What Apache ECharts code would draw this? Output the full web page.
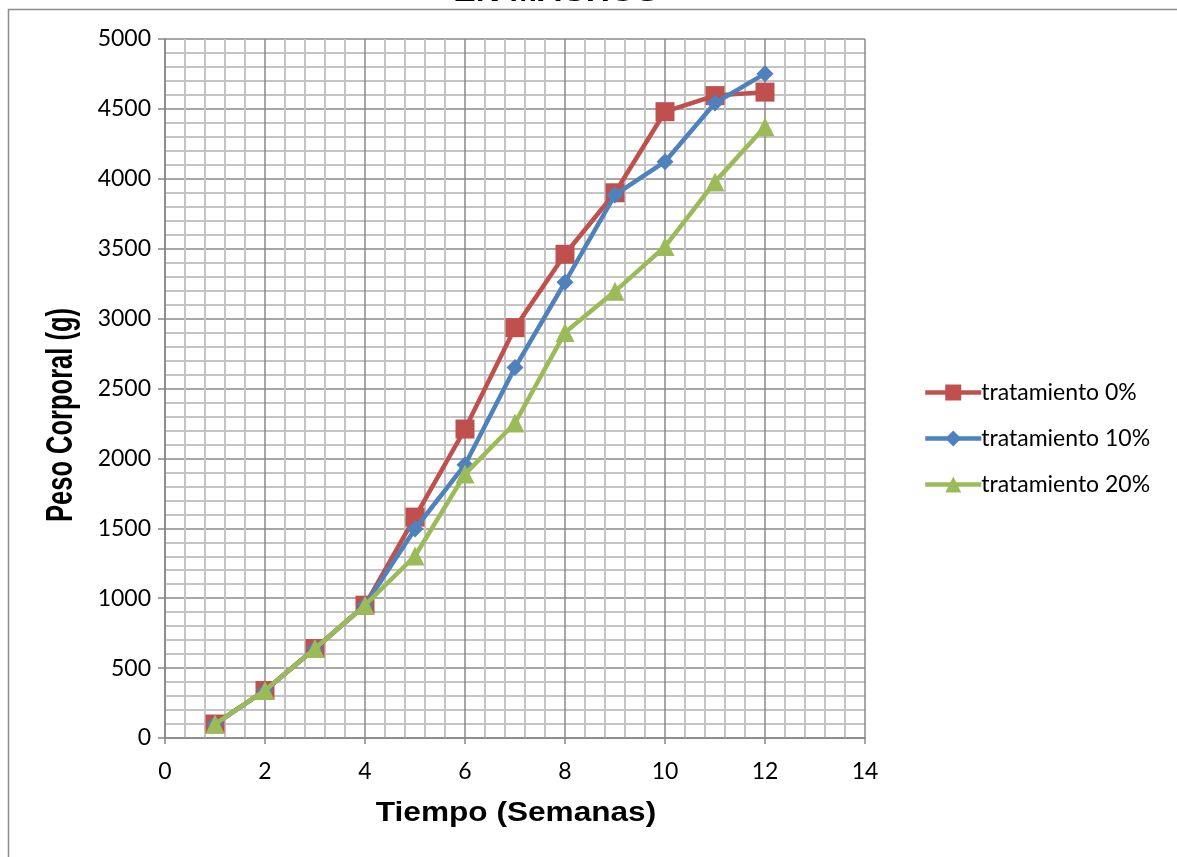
<!DOCTYPE html>
<html><head><meta charset="utf-8">
<script src="https://cdn.jsdelivr.net/npm/echarts@6/dist/echarts.min.js"></script>
<style>html,body{margin:0;padding:0;background:#fff}#c{width:1177px;height:857px}</style>
</head><body><div id="c"></div>
<script>
const weeks = [1,2,3,4,5,6,7,8,9,10,11,12];
const trat0  = [100,340,640,950,1580,2210,2935,3460,3900,4480,4595,4620];
const trat10 = [100,340,640,950,1495,1955,2650,3260,3885,4122,4542,4752];
const trat20 = [100,340,640,950,1302,1888,2253,2900,3195,3515,3978,4372];
const seriesNames = ['tratamiento 0%','tratamiento 10%','tratamiento 20%'];
const titleText = 'EN MACHOS';
const xName = 'Tiempo (Semanas)';
const yName = 'Peso Corporal (g)';
const colors = ['#C0504D','#4F81BD','#9BBB59'];
const symbols = ['rect','diamond','triangle'];
const symbolSizes = [19,17,19];
const allData = [trat0, trat10, trat20];

const font = 'Lato, "Open Sans", "Noto Sans", sans-serif';
const chart = echarts.init(document.getElementById('c'));
chart.setOption({
  animation:false,
  backgroundColor:'#fff',
  graphic:[
    {type:'rect', shape:{x:8.5,y:9.5,width:1200,height:900}, style:{fill:'none', stroke:'#8c8c8c', lineWidth:1.5}, z:-1},
    {type:'text', x:556, y:-7, scaleX:1.2, style:{text:titleText, font:'bold 28px "Liberation Sans", Arial, sans-serif', fill:'#000', textAlign:'center', textVerticalAlign:'middle'}},
    {type:'text', x:516, y:814, scaleX:1.17, style:{text:xName, font:'bold 27px "Liberation Sans", Arial, sans-serif', fill:'#000', textAlign:'center', textVerticalAlign:'middle'}},
    {type:'text', x:62, y:415, rotation:Math.PI/2, scaleX:0.85, scaleY:1.2, style:{text:yName, font:'bold 30px "Liberation Sans", Arial, sans-serif', fill:'#000', textAlign:'center', textVerticalAlign:'middle'}}
  ],
  grid:{left:165, top:39, width:700, height:699},
  legend:{orient:'vertical', left:918, top:376, itemGap:23, itemWidth:56, itemHeight:20,
    textStyle:{fontFamily:font, fontSize:23, color:'#000', padding:[0,0,0,-5]},
    lineStyle:{width:4.5},
    data:seriesNames},
  xAxis:{type:'value', min:0, max:14, interval:2,
    axisLine:{show:true, onZero:false, lineStyle:{color:'#868686', width:1.5}},
    axisTick:{show:true, length:6, lineStyle:{color:'#868686', width:1.5}},
    axisLabel:{fontFamily:font, fontSize:23, color:'#000', margin:22, formatter:v=>String(v)},
    splitLine:{show:true, lineStyle:{color:'#8a8a8a', width:1.5}},
    minorTick:{show:false, splitNumber:5},
    minorSplitLine:{show:true, lineStyle:{color:'#c4c4c4', width:2}}},
  yAxis:{type:'value', min:0, max:5000, interval:500,
    axisLine:{show:true, lineStyle:{color:'#868686', width:1.5}},
    axisTick:{show:true, length:7, lineStyle:{color:'#868686', width:1.5}},
    axisLabel:{fontFamily:font, fontSize:23, color:'#000', margin:14, formatter:v=>String(v)},
    splitLine:{show:true, lineStyle:{color:'#8a8a8a', width:1.5}},
    minorTick:{show:false, splitNumber:5},
    minorSplitLine:{show:true, lineStyle:{color:'#c4c4c4', width:2}}},
  series: allData.map((d,i)=>({
    name:seriesNames[i], type:'line',
    data: weeks.map((w,j)=>[w,d[j]]),
    symbol:symbols[i], symbolSize:symbolSizes[i], showAllSymbol:true,
    lineStyle:{color:colors[i], width:4.5},
    itemStyle:{color:colors[i], borderWidth:0},
    z: 3+i
  }))
});
</script></body></html>
